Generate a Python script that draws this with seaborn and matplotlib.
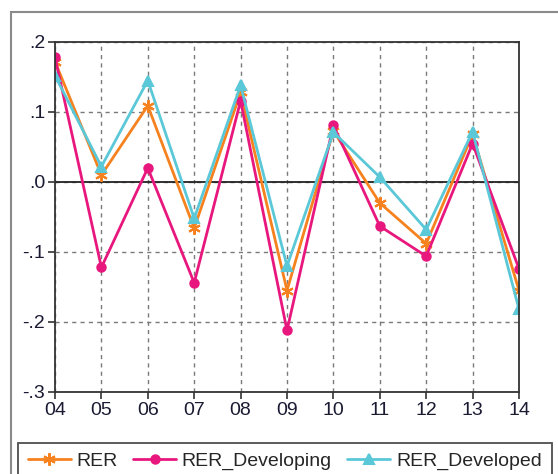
import matplotlib
matplotlib.use("Agg")
import matplotlib.pyplot as plt
import seaborn as sns
import pandas as pd
from matplotlib.patches import Rectangle

years = ["04", "05", "06", "07", "08", "09", "10", "11", "12", "13", "14"]
rer = [0.172, 0.010, 0.109, -0.066, 0.128, -0.155, 0.073, -0.030, -0.088, 0.068, -0.155]
rer_developing = [0.178, -0.122, 0.020, -0.144, 0.116, -0.212, 0.081, -0.063, -0.106, 0.055, -0.124]
rer_developed = [0.152, 0.022, 0.145, -0.052, 0.138, -0.120, 0.071, 0.007, -0.068, 0.072, -0.182]

series = {
    "RER": (rer, "#F5821F", (6, 2, 0), 9),
    "RER_Developing": (rer_developing, "#E8177E", "o", 6),
    "RER_Developed": (rer_developed, "#5BC8D8", "^", 7),
}

sns.set_style("white")
plt.rcParams["font.family"] = ["Liberation Sans", "DejaVu Sans"]

fig = plt.figure(figsize=(5.58, 4.74), dpi=100)
ax = fig.add_axes([55 / 558, 1 - 392 / 474, (519 - 55) / 558, (392 - 42) / 474])

x = list(range(len(years)))
for name, (vals, color, marker, ms) in series.items():
    df = pd.DataFrame({"year": x, "value": vals})
    sns.lineplot(data=df, x="year", y="value", ax=ax, color=color, marker=marker,
                 markersize=ms, markeredgecolor=color, markeredgewidth=1.5,
                 linewidth=2.0, label=name, legend=False)

ax.set_xlim(0, len(years) - 1)
ax.set_ylim(-0.3, 0.2)
ax.set_xticks(x)
ax.set_xticklabels(years)
yt = [0.2, 0.1, 0.0, -0.1, -0.2, -0.3]
ax.set_yticks(yt)
ax.set_yticklabels([".2", ".1", ".0", "-.1", "-.2", "-.3"])
ax.set_xlabel("")
ax.set_ylabel("")
ax.grid(True, color="#7a7a7a", linestyle=(0, (3, 3)), linewidth=1.0)
ax.axhline(0, color="#222222", linewidth=1.3, zorder=1.5)
for s in ax.spines.values():
    s.set_color("#333333")
    s.set_linewidth(1.3)
ax.tick_params(axis="both", direction="out", length=5, width=1.2, color="#333333",
               labelsize=14, labelcolor="#1a1a33", pad=2, left=True, bottom=True)

fig.patches.append(Rectangle((11 / 558, -0.1), 1.2, 1 - 12 / 474 + 0.1,
                             transform=fig.transFigure, fill=False,
                             edgecolor="#8a8a8a", linewidth=1.5))

handles, labels = ax.get_legend_handles_labels()
leg = fig.legend(handles, labels, loc="lower left", ncol=3,
                 bbox_to_anchor=(18 / 558, -6 / 474), borderaxespad=0,
                 frameon=True, fancybox=False, edgecolor="#222222",
                 fontsize=14, handlelength=2.2, columnspacing=0.8,
                 handletextpad=0.3, borderpad=0.5)
leg.get_frame().set_linewidth(1.3)

fig.savefig("out.png", dpi=100)
